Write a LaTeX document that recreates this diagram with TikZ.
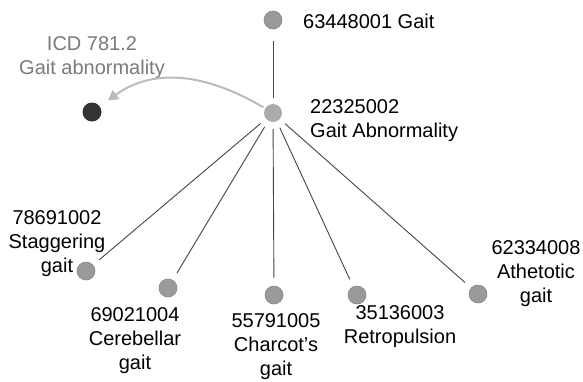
\documentclass[tikz,border=0pt]{standalone}
\usepackage{fontspec}
\setmainfont{Liberation Sans}
\usetikzlibrary{arrows.meta}

\definecolor{dotgray}{HTML}{9A9A9A}
\definecolor{dotrim}{HTML}{858585}
\definecolor{hubgray}{HTML}{ABABAB}
\definecolor{icddark}{HTML}{333333}
\definecolor{icdtext}{HTML}{7A7A7A}
\definecolor{mapgray}{HTML}{BBBBBB}
\definecolor{edgegray}{HTML}{444444}

\tikzset{
    dot/.style={circle, fill=dotgray, draw=dotrim, line width=0.6pt, minimum size=18pt, inner sep=0pt},
    hub/.style={circle, fill=hubgray, minimum size=18pt, inner sep=0pt},
    icd/.style={circle, fill=icddark, minimum size=19pt, inner sep=0pt},
    lbl/.style={font=\fontsize{20}{24}\selectfont, text=black, inner sep=0pt, align=center},
    link/.style={draw=edgegray, line width=0.9pt, shorten <=7pt, shorten >=8pt},
    mapto/.style={draw=mapgray, line width=2pt, -{Triangle[width=11pt,length=10pt]}}
}

\begin{document}
\begin{tikzpicture}[x=1pt,y=-1pt]
    \useasboundingbox (0,0) rectangle (583,381);

    % SNOMED concepts
    \node[dot] (gait) at (273,20) {};
    \node[hub] (abn) at (273,113) {};
    \node[dot] (stag) at (86,271) {};
    \node[dot] (cereb) at (168,288) {};
    \node[dot] (charcot) at (274,295) {};
    \node[dot] (retro) at (357,295) {};
    \node[dot] (athet) at (478,294) {};

    % ICD code
    \node[icd] (icd) at (92,112) {};

    % labels
    \node[lbl, anchor=base west] (gaitlbl) at (303,28) {63448001 Gait};
    \node[lbl, anchor=north west, align=left] (abnlbl) at (310,99.5) {22325002\\Gait Abnormality};
    \node[lbl, anchor=north, text=icdtext] (icdlbl) at (92,36.5) {ICD 781.2\\Gait abnormality};
    \node[lbl, anchor=north] (staglbl) at (57,210.5) {78691002\\Staggering\\gait};
    \node[lbl, anchor=north] (cereblbl) at (135,307.5) {69021004\\Cerebellar\\gait};
    \node[lbl, anchor=north] (charcotlbl) at (276,313.5) {55791005\\Charcot's\\gait};
    \node[lbl, anchor=north] (retrolbl) at (400,305.5) {35136003\\Retropulsion};
    \node[lbl, anchor=north] (athetlbl) at (536,240.5) {62334008\\Athetotic\\gait};

    % is-a links
    \draw[link, shorten <=12pt, shorten >=6pt] (gait) -- (abn);
    \foreach \child in {stag, cereb, charcot, retro, athet}
        \draw[link] (abn) -- (\child);

    % mapping to ICD
    \draw[mapto, shorten <=2pt, shorten >=10pt] (abn) .. controls (200,70) and (150,70) .. (icd);
\end{tikzpicture}
\end{document}
